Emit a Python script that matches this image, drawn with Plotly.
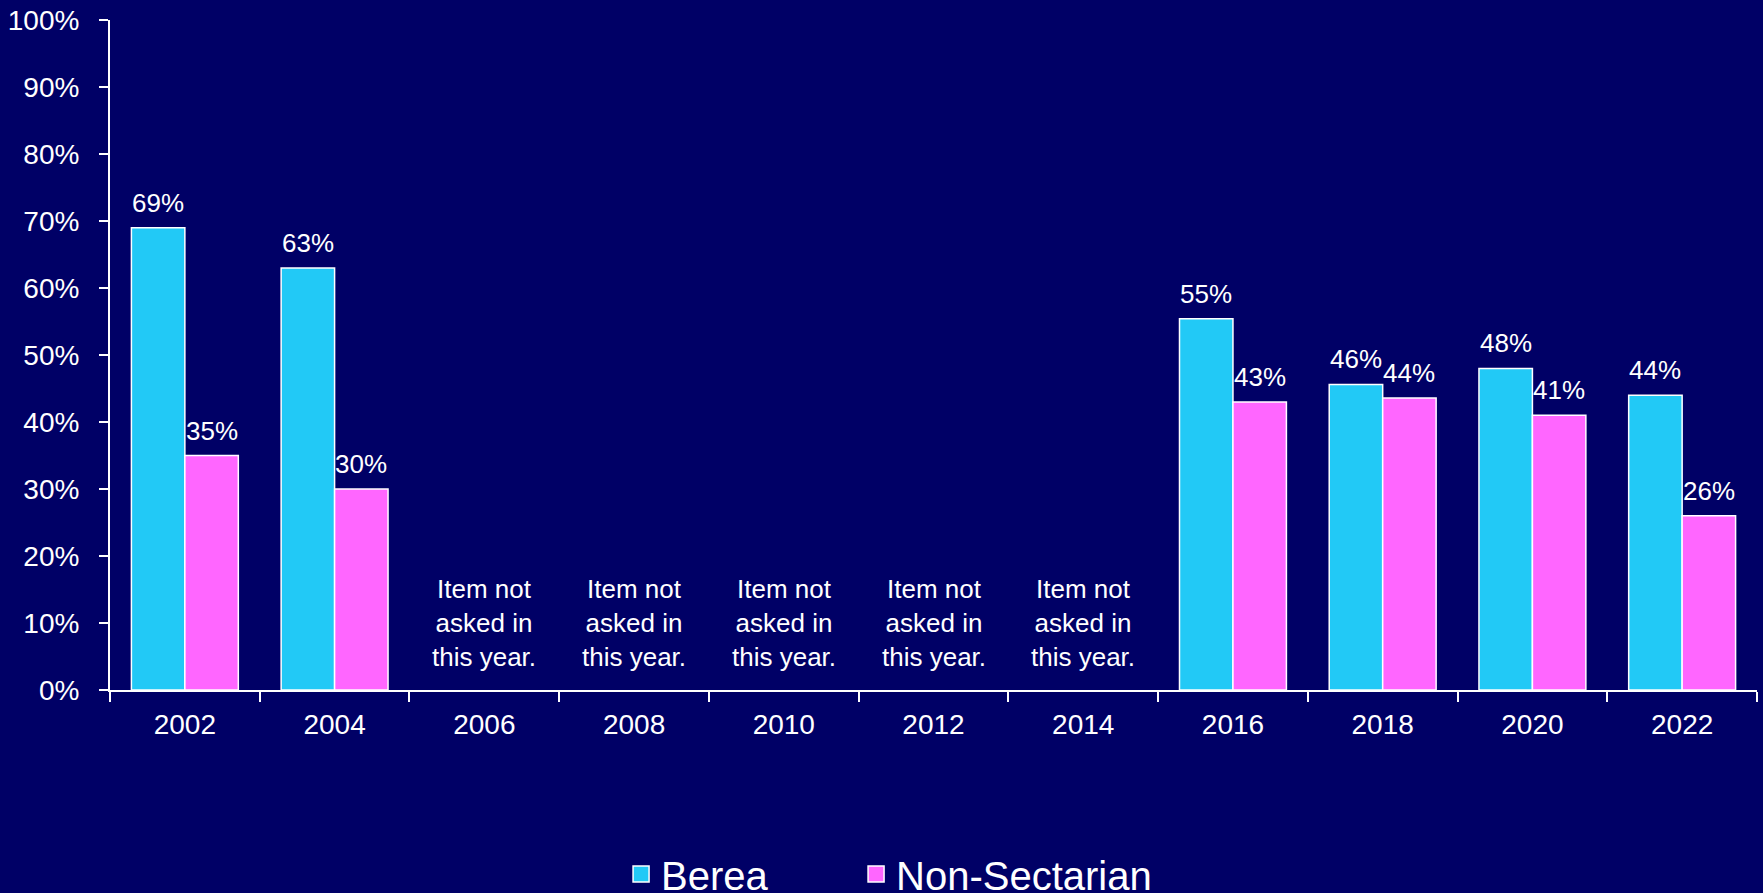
import plotly.graph_objects as go

years = ["2002", "2004", "2006", "2008", "2010", "2012", "2014", "2016", "2018", "2020", "2022"]
berea = [69, 63, None, None, None, None, None, 55.4, 45.6, 48, 44]
non_sectarian = [35, 30, None, None, None, None, None, 43, 43.6, 41, 26]
series_names = ["Berea", "Non-Sectarian"]
not_asked_text = "Item not<br>asked in<br>this year."

BG = "#000066"
CYAN = "#22C9F6"
PINK = "#FF66FF"
FONT = "Arial, Liberation Sans, sans-serif"

W, H = 1763, 893
ML, MR, MT, MB = 110, 6, 20, 203
BARGAP = 0.286

fig = go.Figure()
for name, vals, col in [(series_names[0], berea, CYAN), (series_names[1], non_sectarian, PINK)]:
    fig.add_trace(go.Bar(
        x=years, y=vals, name=name, showlegend=False, legendgroup=name,
        marker=dict(color=col, line=dict(color="white", width=1.5)),
    ))
# legend entries with larger square swatches
for i, (name, col) in enumerate([(series_names[0], CYAN), (series_names[1], PINK)]):
    fig.add_trace(go.Scatter(
        x=[None], y=[None], name=name, legendgroup=name, mode="markers",
        marker=dict(symbol="square", size=16, color=col, line=dict(color="white", width=1.5)),
        legendwidth=190 if i == 0 else None,
    ))

# value labels above bars, and notes for years without data
# (category axis positions are given by index so year strings are not read as numbers)
plot_w = W - ML - MR
cat_w = plot_w / len(years)
bar_w = cat_w * (1 - BARGAP) / 2
annotations = []
for vals, shift in [(berea, -bar_w / 2), (non_sectarian, bar_w / 2)]:
    for idx, v in enumerate(vals):
        if v is None:
            continue
        annotations.append(dict(
            x=idx, y=v, xref="x", yref="y", text=f"{round(v)}%", showarrow=False,
            xanchor="center", yanchor="bottom", xshift=round(shift, 1), yshift=8,
            font=dict(family=FONT, size=26, color="white"),
        ))
for idx, (b, n) in enumerate(zip(berea, non_sectarian)):
    if b is None and n is None:
        annotations.append(dict(
            x=idx, y=10, xref="x", yref="y", text=not_asked_text, showarrow=False,
            xanchor="center", yanchor="middle",
            font=dict(family=FONT, size=26, color="white"),
        ))

fig.update_layout(
    width=W, height=H,
    paper_bgcolor=BG, plot_bgcolor=BG,
    margin=dict(l=ML, r=MR, t=MT, b=MB, autoexpand=False),
    barmode="group", bargap=BARGAP, bargroupgap=0,
    font=dict(family=FONT, color="white"),
    annotations=annotations,
    legend=dict(
        orientation="h", x=0.3103, xanchor="left", y=-0.226, yanchor="top",
        font=dict(family=FONT, size=40, color="white"),
        bgcolor="rgba(0,0,0,0)",
    ),
    xaxis=dict(
        type="category", categoryorder="array", categoryarray=years,
        range=[-0.5, len(years) - 0.5],
        showline=True, linecolor="white", linewidth=2,
        ticks="outside", tickson="boundaries", ticklen=10, tickwidth=2, tickcolor="white",
        tickfont=dict(family=FONT, size=28, color="white"),
        ticklabelstandoff=8, showgrid=False, zeroline=False,
    ),
    yaxis=dict(
        range=[0, 100], tickmode="linear", tick0=0, dtick=10, ticksuffix="%",
        showline=True, linecolor="white", linewidth=2,
        ticks="outside", ticklen=9, tickwidth=2, tickcolor="white",
        tickfont=dict(family=FONT, size=28, color="white"),
        ticklabelstandoff=14, showgrid=False, zeroline=False,
    ),
)

post = "document.body.style.margin='0'; document.body.style.background='#000066';"

fig.write_html("out.html", post_script=post, config={"displayModeBar": False})
